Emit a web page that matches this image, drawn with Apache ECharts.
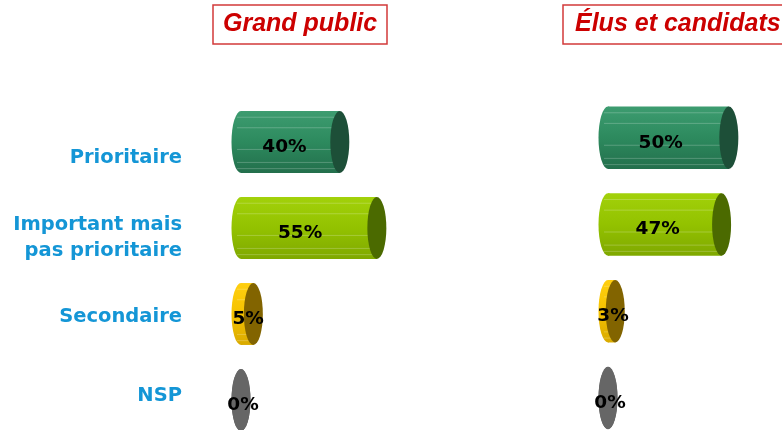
<!DOCTYPE html>
<html>
<head>
<meta charset="utf-8">
<script src="https://cdn.jsdelivr.net/npm/echarts@6/dist/echarts.min.js"></script>
<style>
html,body{margin:0;padding:0;background:#fff;}
#c{width:782px;height:430px;}
</style>
</head>
<body>
<div id="c"></div>
<script>
const categories = ['Prioritaire', 'Important mais\npas prioritaire', 'Secondaire', 'NSP'];
const grandPublic = [40, 55, 5, 0];
const elusCandidats = [50, 47, 3, 0];
const panelTitles = ['Grand public', 'Élus et candidats'];

const bodyColors = [['#3d9c70', '#2d8a5e', '#236f4c'], ['#a2d10a', '#93c200', '#7fa800'], ['#ffcf10', '#f5c200', '#d9aa00'], ['#7a7a7a', '#6a6a6a', '#5a5a5a']];
const capColors = ['#1d4f38', '#4b6a00', '#826400', '#666666'];

function renderCylinder(params, api) {
  const v = api.value(0);
  const i = api.value(1);
  const p0 = api.coord([0, i]);
  const p1 = api.coord([v, i]);
  const h = api.size([0, 1])[1] * 0.72;
  const ry = h / 2;
  const rx = 9.5;
  const cy = p0[1];
  const bc = bodyColors[i];
  const grad = {
    type: 'linear', x: 0, y: 0, x2: 0, y2: 1,
    colorStops: [{offset: 0, color: bc[0]}, {offset: 0.5, color: bc[1]}, {offset: 1, color: bc[2]}]
  };
  const children = [];
  children.push({type: 'circle', x: p0[0], y: cy, scaleX: rx / ry, shape: {cx: 0, cy: 0, r: ry}, style: {fill: grad}});
  const w = p1[0] - p0[0];
  if (w > 0) {
    children.push({type: 'rect', shape: {x: p0[0], y: cy - ry, width: w, height: h}, style: {fill: grad}});
    [0.1, 0.27, 0.62, 0.83, 0.93].forEach(function (f) {
      children.push({type: 'line', shape: {x1: p0[0] - 4, y1: cy - ry + f * h, x2: p1[0], y2: cy - ry + f * h},
        style: {stroke: 'rgba(255,255,255,0.22)', lineWidth: 1}});
    });
  }
  children.push({type: 'circle', x: p1[0], y: cy, scaleX: rx / ry, shape: {cx: 0, cy: 0, r: ry}, style: {fill: capColors[i]}});
  children.push({type: 'text', x: p0[0] + 0.42 * w + 2, y: cy + 5,
    style: {text: v + '%', fill: '#000', fontSize: 18.5, fontWeight: 'bold', fontFamily: 'DejaVu Sans', align: 'center', verticalAlign: 'middle'}});
  return {type: 'group', children: children};
}

const titleStyle = {color: '#cc0000', fontSize: 25, fontWeight: 'bold', fontStyle: 'italic', fontFamily: 'Liberation Sans', lineHeight: 27};

const option = {
  animation: false,
  title: [
    {text: panelTitles[0], left: 213, top: 5, padding: [6, 10, 6, 10], borderColor: '#d23a3a', borderWidth: 1.5, textStyle: titleStyle},
    {text: panelTitles[1], left: 563, top: 5, padding: [6, 10, 6, 12], borderColor: '#d23a3a', borderWidth: 1.5, textStyle: titleStyle}
  ],
  grid: [
    {left: 241, width: 247, top: 56, height: 344},
    {left: 608, width: 145, top: 51, height: 347},
    {left: 190, width: 10, top: 79, height: 317}
  ],
  xAxis: [
    {gridIndex: 0, type: 'value', min: 0, max: 100, show: false},
    {gridIndex: 1, type: 'value', min: 0, max: 60, show: false},
    {gridIndex: 2, type: 'value', min: 0, max: 100, show: false}
  ],
  yAxis: [
    {gridIndex: 0, type: 'value', min: -1, max: 3, inverse: true, show: false},
    {gridIndex: 1, type: 'value', min: -1, max: 3, inverse: true, show: false},
    {gridIndex: 2, type: 'value', min: -1, max: 3, interval: 1, inverse: true,
      axisLine: {show: false}, axisTick: {show: false}, splitLine: {show: false},
      axisLabel: {color: '#1496d6', fontSize: 19.5, fontWeight: 'bold', fontFamily: 'DejaVu Sans', lineHeight: 26, margin: 8, align: 'right',
        showMinLabel: true, showMaxLabel: true,
        formatter: function (val) { return categories[val] || ''; }}}
  ],
  series: [
    {type: 'custom', xAxisIndex: 0, yAxisIndex: 0, renderItem: renderCylinder,
      encode: {x: 0, y: 1}, data: grandPublic.map(function (v, i) { return [v, i]; })},
    {type: 'custom', xAxisIndex: 1, yAxisIndex: 1, renderItem: renderCylinder,
      encode: {x: 0, y: 1}, data: elusCandidats.map(function (v, i) { return [v, i]; })}
  ]
};

const chart = echarts.init(document.getElementById('c'), null, {renderer: 'canvas'});
chart.setOption(option);
</script>
</body>
</html>
